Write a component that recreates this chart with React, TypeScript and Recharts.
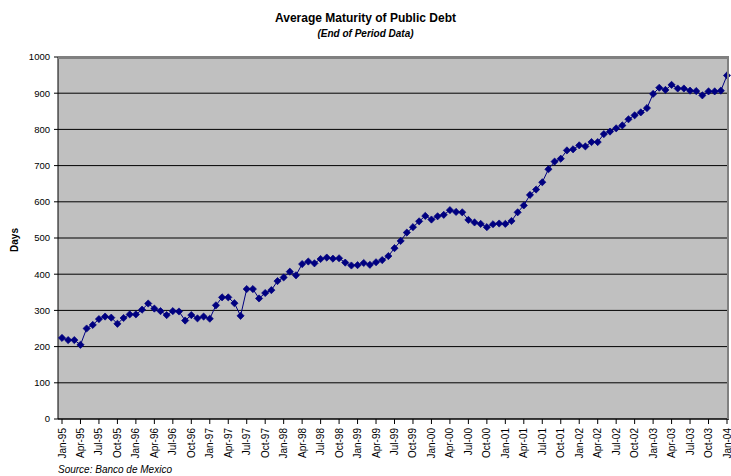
import { LineChart, Line, XAxis, YAxis, CartesianGrid } from "recharts";

const FONT = '"Liberation Sans", Arial, sans-serif';
const NAVY = "#000080";

const MONTHS = ["Jan", "Feb", "Mar", "Apr", "May", "Jun", "Jul", "Aug", "Sep", "Oct", "Nov", "Dec"];
const YEARS = ["95", "96", "97", "98", "99", "00", "01", "02", "03", "04"];

// average maturity in days, month end, Jan-95 .. Jan-04
const DAYS = [
  224, 218, 218, 205, 250, 260, 276, 283, 280, 263, 279, 289,
  289, 302, 319, 305, 298, 287, 298, 297, 272, 287, 278, 283,
  277, 314, 336, 336, 320, 285, 359, 359, 333, 348, 356, 381,
  391, 407, 397, 428, 435, 430, 442, 446, 443, 444, 432, 424,
  425, 431, 426, 433, 439, 450, 472, 492, 515, 530, 546, 561,
  551, 560, 564, 577, 572, 571, 550, 543, 539, 530, 538, 540,
  539, 547, 571, 590, 619, 634, 654, 690, 711, 719, 742, 745,
  756, 753, 765, 765, 787, 794, 803, 811, 828, 839, 847, 859,
  898, 915, 909, 923, 913, 913, 907, 906, 894, 905, 905, 907,
  949,
];

const Y_TICKS = [0, 100, 200, 300, 400, 500, 600, 700, 800, 900, 1000];

const data = DAYS.map((days, i) => ({
  month: `${MONTHS[i % 12]}-${YEARS[Math.floor(i / 12)]}`,
  days,
}));

function MonthTick({ x, y, payload }: any) {
  return (
    <text
      x={0}
      y={0}
      transform={`translate(${x + 3.5},${y + 2}) rotate(-90)`}
      textAnchor="end"
      fontSize={10}
      fontFamily={FONT}
      fill="#000"
    >
      {payload.value}
    </text>
  );
}

function Diamond({ cx, cy, index }: any) {
  if (cx == null || cy == null) return null;
  const r = 3.6;
  return (
    <path
      key={`dot-${index}`}
      d={`M${cx},${cy - r}L${cx + r},${cy}L${cx},${cy + r}L${cx - r},${cy}Z`}
      fill={NAVY}
      stroke={NAVY}
      strokeWidth={0.7}
    />
  );
}

export default function App() {
  return (
    <div
      style={{
        position: "absolute",
        left: 0,
        top: 0,
        width: 731,
        height: 476,
        background: "#fff",
        fontFamily: FONT,
        overflow: "hidden",
      }}
    >
      <div style={{ position: "absolute", top: 11, left: 0, width: 731, textAlign: "center", fontSize: 12, fontWeight: "bold" }}>
        Average Maturity of Public Debt
      </div>
      <div
        style={{ position: "absolute", top: 28, left: 0, width: 731, textAlign: "center", fontSize: 10, fontWeight: "bold", fontStyle: "italic" }}
      >
        (End of Period Data)
      </div>

      <LineChart width={731} height={476} data={data} margin={{ top: 57, right: 2, left: 0, bottom: 0 }}>
        <CartesianGrid vertical={false} stroke="#000" fill="#C0C0C0" fillOpacity={1} />
        <XAxis
          dataKey="month"
          interval={2}
          height={57}
          padding={{ left: 4, right: 2 }}
          tick={<MonthTick />}
          tickSize={5}
          axisLine={{ stroke: "#000" }}
          tickLine={{ stroke: "#000" }}
        />
        <YAxis
          domain={[0, 1000]}
          ticks={Y_TICKS}
          width={58}
          tickSize={4}
          tickMargin={4}
          tick={{ fontSize: 9.5, fontFamily: FONT, fill: "#000" }}
          axisLine={{ stroke: "#000" }}
          tickLine={{ stroke: "#000" }}
        />
        <Line
          type="linear"
          dataKey="days"
          stroke={NAVY}
          strokeWidth={1}
          dot={<Diamond />}
          isAnimationActive={false}
        />
      </LineChart>

      <div
        style={{
          position: "absolute",
          left: 58,
          top: 57,
          width: 671,
          height: 362,
          boxSizing: "border-box",
          borderTop: "2px solid #808080",
          borderRight: "2px solid #808080",
          pointerEvents: "none",
        }}
      />

      <div
        style={{
          position: "absolute",
          left: 3,
          top: 240,
          fontSize: 10,
          fontWeight: "bold",
          transform: "translate(0, -50%) rotate(-90deg)",
          transformOrigin: "center",
        }}
      >
        Days
      </div>

      <div style={{ position: "absolute", left: 58, top: 464, fontSize: 10, lineHeight: "11px", fontStyle: "italic" }}>
        Source: Banco de Mexico
      </div>
    </div>
  );
}
